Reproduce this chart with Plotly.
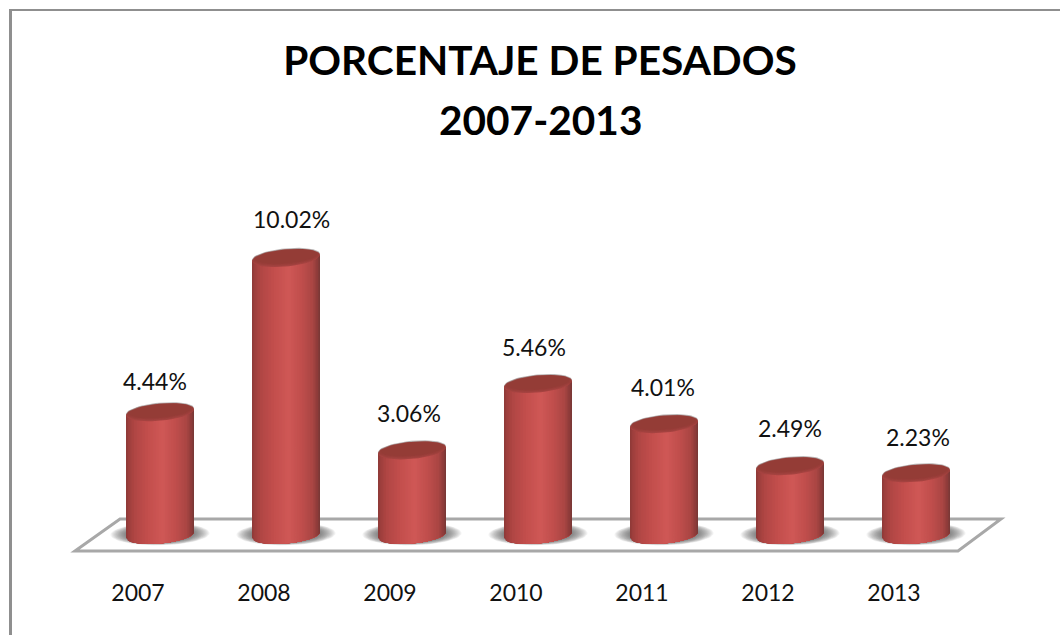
import numpy as np
import plotly.graph_objects as go

# Chart content
years = ["2007", "2008", "2009", "2010", "2011", "2012", "2013"]
porcentaje = [4.44, 10.02, 3.06, 5.46, 4.01, 2.49, 2.23]
title_main = "PORCENTAJE DE PESADOS"
title_period = "2007-2013"

# Page geometry, in pixels
W, H = 1060, 635
AXIS_BOTTOM = 575
SLOT = 126.0           # distance between neighbouring categories
FIRST_TICK = 138.0     # x of the first category label
DEPTH = 22.0           # the columns stand further right than their labels
ZERO_Y = 535.0         # y of the value 0
PX_PER_VALUE = 27.65

# Cylinder shape, in pixels
R_X, R_Y, SHEAR = 34.0, 8.5, 3.0
r_x, r_y, shear = R_X / SLOT, R_Y / PX_PER_VALUE, SHEAR / PX_PER_VALUE
shift = DEPTH / SLOT

xs = [i + shift for i in range(len(years))]

# Label placement tweaks (pixels): sideways and upward from the column top
label_dx = [-5, 5, -3, -4, -1, 0, 2]
label_dy = [31, 39, 37, 37, 37, 38, 36]

# Horizontal shading across a column: position (-1..1) -> colour
shade_u = [-1.0, -0.93, -0.75, -0.35, 0.08, 0.45, 0.78, 0.93, 1.0]
shade_c = ["#8a3836", "#9c3e3c", "#b04644", "#c34f4d", "#cf5856",
           "#c04e4c", "#aa4644", "#8c3b39", "#763836"]


def hex_rgb(code):
    return np.array([int(code[k:k + 2], 16) for k in (1, 3, 5)], float)


def shade(u):
    rgb = [np.interp(u, shade_u, [hex_rgb(c)[k] for c in shade_c]) for k in range(3)]
    return "rgb({:.0f},{:.0f},{:.0f})".format(*rgb)


def ellipse(cx, cy, scale_x=1.0, scale_y=1.0, n=60, tilt=1.0):
    t = np.linspace(0, 2 * np.pi, n)
    ex = cx + r_x * scale_x * np.cos(t)
    ey = cy + tilt * shear * scale_y * np.cos(t) + r_y * scale_y * np.sin(t)
    return ex, ey


def gather(parts):
    # Joins several closed outlines into one trace, split by gaps
    out_x, out_y = [], []
    for px_, py_ in parts:
        out_x += list(px_) + [None]
        out_y += list(py_) + [None]
    return out_x, out_y


def area(parts, color):
    ax, ay = gather(parts)
    return go.Scatter(
        x=ax, y=ay, mode="lines", fill="toself", fillcolor=color,
        line=dict(width=0), hoverinfo="skip", showlegend=False,
    )


fig = go.Figure()

# Soft contact shadows on the floor: flat, wide and fading outwards
for scale in np.linspace(1.46, 1.0, 18):
    parts = [ellipse(x, 0.04, scale, 1 + (scale - 1) * 0.75, tilt=0.2) for x in xs]
    fig.add_trace(area(parts, "rgba(70,70,70,0.055)"))

# Pale halo along the back edge of each column top
lift = 1.1 / PX_PER_VALUE
fig.add_trace(area([ellipse(x, v + lift) for x, v in zip(xs, porcentaje)],
                   "rgba(170,165,165,0.8)"))

# Column bodies: bands painted left to right, each one covering the rest
bands = np.linspace(-1, 0.985, 44)
for u0 in bands:
    u = np.linspace(u0, 1, 18)
    parts = []
    for x, v in zip(xs, porcentaje):
        lower = -r_y * np.sqrt(np.clip(1 - u ** 2, 0, 1)) + shear * u
        px_ = np.r_[x + r_x * u, x + r_x * u[::-1]]
        py_ = np.r_[lower, v + shear * u[::-1]]
        parts.append((px_, py_))
    fig.add_trace(area(parts, shade(u0 + (bands[1] - bands[0]) / 2)))

# Column tops: an opaque disc, then darker discs that melt into the body
fig.add_trace(area([ellipse(x, v) for x, v in zip(xs, porcentaje)], "#ad4745"))
for scale in np.linspace(1.0, 0.82, 6):
    up = (1 - scale) * 1.2 * r_y
    parts = [ellipse(x, v + up, min(1.0, scale + 0.1), scale) for x, v in zip(xs, porcentaje)]
    fig.add_trace(area(parts, "rgba(135,52,50,0.13)"))


def paper_x(px):
    return px / W


def paper_y(py):
    return 1 - py / AXIS_BOTTOM


def path(points):
    return "M " + " L ".join(f"{paper_x(a):.5f},{paper_y(b):.5f}" for a, b in points) + " Z"


shapes = [
    # Floor of the chart
    dict(type="path", xref="paper", yref="paper", layer="below",
         path=path([(75, 551), (120, 519), (1001, 519), (958, 551)]),
         fillcolor="white", line=dict(color="#a8a8a8", width=3)),
    # Chart frame: only its top and left edges fall inside the page
    dict(type="line", xref="paper", yref="paper", layer="below",
         x0=paper_x(10.5), x1=paper_x(10.5), y0=paper_y(9), y1=paper_y(H),
         line=dict(color="#8f8f8f", width=3)),
    dict(type="line", xref="paper", yref="paper", layer="below",
         x0=paper_x(9), x1=paper_x(W), y0=paper_y(10), y1=paper_y(10),
         line=dict(color="#8f8f8f", width=2)),
]

annotations = [
    dict(x=x, y=v, xref="x", yref="y", text=f"{v:.2f}%", showarrow=False,
         xshift=dx, yshift=dy, font=dict(family="Lato", size=23, color="#111111"))
    for x, v, dx, dy in zip(xs, porcentaje, label_dx, label_dy)
]
annotations.append(
    dict(x=paper_x(540), y=paper_y(119), xref="paper", yref="paper", xanchor="center",
         yanchor="middle", text=f"<b>{title_period}</b>", showarrow=False,
         font=dict(family="Lato", size=40.6, color="black"))
)

fig.update_layout(
    width=W, height=H, autosize=False,
    margin=dict(l=0, r=0, t=0, b=H - AXIS_BOTTOM, pad=0),
    paper_bgcolor="white", plot_bgcolor="white",
    showlegend=False,
    title=dict(
        text=f"<b>{title_main}</b>",
        x=540 / W, xanchor="center", y=1 - 47 / H, yanchor="top",
        font=dict(family="Lato", size=40.6, color="black"),
    ),
    xaxis=dict(
        range=[-FIRST_TICK / SLOT, (W - FIRST_TICK) / SLOT],
        tickmode="array", tickvals=list(range(len(years))), ticktext=years,
        showgrid=False, zeroline=False, showline=False, ticks="",
        tickfont=dict(family="Lato", size=23, color="#111111"),
        ticklabelstandoff=2,
    ),
    yaxis=dict(
        range=[(ZERO_Y - AXIS_BOTTOM) / PX_PER_VALUE, ZERO_Y / PX_PER_VALUE],
        visible=False, showgrid=False, zeroline=False,
    ),
    shapes=shapes,
    annotations=annotations,
)

fig.write_html("out.html")
